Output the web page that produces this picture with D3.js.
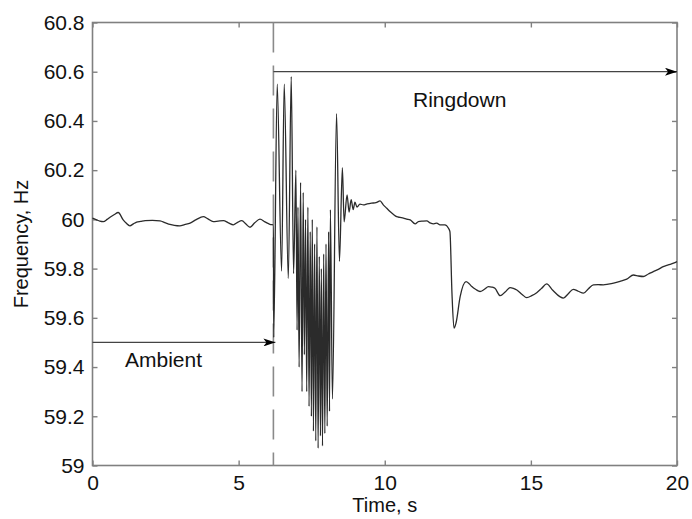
<!DOCTYPE html>
<html><head><meta charset="utf-8">
<script src="https://cdn.jsdelivr.net/npm/d3@7"></script>
<style>body{margin:0;background:#fff}svg{display:block}text{font-family:"Liberation Sans",Arial,sans-serif}</style>
</head><body>
<svg id="c" width="692" height="519"></svg>
<script>
const timeS = [0,0.14,0.25,0.37,0.50,0.60,0.75,0.88,1.05,1.15,1.28,1.40,1.51,1.65,1.80,2.05,2.31,2.50,2.65,2.80,2.99,3.15,3.34,3.55,3.79,3.95,4.13,4.30,4.48,4.65,4.82,4.95,5.11,5.25,5.39,5.55,5.73,5.90,6.07,6.19,
  6.20,6.32,6.47,6.56,6.70,6.80,6.88,6.96,7.00,7.03,7.07,7.12,7.17,7.21,7.25,7.29,7.33,7.37,7.41,7.45,7.49,7.52,7.56,7.60,7.64,7.68,7.72,7.76,7.80,7.83,7.87,7.91,7.95,7.99,8.03,8.08,8.11,8.14,8.21,8.35,8.45,8.55,8.61,8.71,8.78,8.85,8.92,8.98,9.05,
  9.15,9.27,9.40,9.55,9.70,9.84,9.95,10.07,10.18,10.30,10.41,10.52,10.64,10.75,10.87,11.04,11.15,11.30,11.44,11.55,11.68,11.78,11.89,12.06,12.18,12.23,12.30,12.37,12.44,12.58,12.78,12.88,12.98,13.12,13.26,13.40,13.55,13.66,13.77,13.95,14.12,14.29,14.40,14.52,14.70,14.86,15.03,15.20,15.37,15.54,15.75,15.99,16.11,16.28,16.45,16.62,16.80,16.97,17.14,17.30,17.48,17.65,17.83,18.05,18.28,18.51,18.68,18.85,19.02,19.19,19.36,19.53,19.70,19.88,20.0];
const freqHz = [60.005,59.998,59.993,59.991,60.000,60.009,60.020,60.028,59.998,59.985,59.974,59.982,59.989,59.992,59.995,59.996,59.994,59.986,59.980,59.976,59.974,59.979,59.985,59.999,60.011,60.002,59.991,59.993,59.995,59.986,59.978,59.987,59.995,59.981,59.968,59.986,60.001,59.990,59.980,59.978,
  59.52,60.55,59.79,60.55,59.76,60.58,59.78,60.20,59.55,60.05,59.40,60.15,59.30,60.11,59.45,60.00,59.30,60.05,59.24,59.95,59.20,60.00,59.14,59.90,59.10,59.97,59.07,59.85,59.12,59.80,59.08,59.86,59.13,59.90,59.16,59.95,59.22,60.04,59.27,60.43,59.83,60.21,59.99,60.10,60.03,60.08,60.04,60.07,60.05,
  60.062,60.059,60.063,60.066,60.068,60.075,60.059,60.045,60.032,60.020,60.011,60.008,60.005,60.001,59.998,59.982,59.991,59.993,59.994,59.986,59.982,59.985,59.978,59.978,59.964,59.95,59.70,59.558,59.58,59.686,59.747,59.740,59.727,59.715,59.707,59.715,59.727,59.725,59.720,59.690,59.705,59.723,59.720,59.713,59.695,59.682,59.690,59.702,59.720,59.738,59.712,59.686,59.680,59.698,59.716,59.708,59.700,59.718,59.734,59.735,59.734,59.737,59.741,59.748,59.757,59.774,59.770,59.768,59.778,59.788,59.797,59.808,59.815,59.822,59.828];
const xTicks = [0,5,10,15,20];
const yTicks = [59,59.2,59.4,59.6,59.8,60,60.2,60.4,60.6,60.8];
const eventT = 6.19;
const ambientF = 59.5, ringdownF = 60.6;

const svg = d3.select("#c");
const L=92.5, R=677, T=22.5, B=465.5;
const x = d3.scaleLinear().domain([0,20]).range([L,R]);
const y = d3.scaleLinear().domain([59,60.8]).range([B,T]);
const axisCol = "#808080";
const fmtY = d => (Math.abs(d-60)<1e-9||Math.abs(d-59)<1e-9) ? d3.format("d")(d) : d3.format(".1f")(d);

svg.append("rect").attr("x",L).attr("y",T).attr("width",R-L).attr("height",B-T)
  .attr("fill","none").attr("stroke",axisCol).attr("stroke-width",1.6);

const gx = svg.append("g").attr("transform",`translate(0,${B})`)
  .call(d3.axisBottom(x).tickValues(xTicks).tickSize(-5).tickPadding(10).tickFormat(d3.format("d")));
const gxt = svg.append("g").attr("transform",`translate(0,${T})`)
  .call(d3.axisTop(x).tickValues(xTicks).tickSize(-5).tickFormat(""));
const gy = svg.append("g").attr("transform",`translate(${L},0)`)
  .call(d3.axisLeft(y).tickValues(yTicks).tickSize(-5).tickPadding(8).tickFormat(fmtY));
const gyr = svg.append("g").attr("transform",`translate(${R},0)`)
  .call(d3.axisRight(y).tickValues(yTicks).tickSize(-5).tickFormat(""));
[gx,gxt,gy,gyr].forEach(g=>{
  g.select(".domain").remove();
  g.selectAll(".tick line").attr("stroke",axisCol).attr("stroke-width",1.4);
  g.selectAll("text").attr("fill","#111").style("font-size","21px");
});

svg.append("line").attr("x1",x(eventT)).attr("x2",x(eventT)).attr("y1",T).attr("y2",B)
  .attr("stroke","#8a8a8a").attr("stroke-width",1.6).attr("stroke-dasharray","30,13");

svg.append("path").datum(d3.zip(timeS,freqHz))
  .attr("d",d3.line().curve(d3.curveMonotoneX).x(d=>x(d[0])).y(d=>y(d[1])))
  .attr("fill","none").attr("stroke","#2b2b2b").attr("stroke-width",1.3).attr("stroke-linejoin","round");

const defs = svg.append("defs");
defs.append("marker").attr("id","ah").attr("viewBox","0 0 12 8").attr("refX",12).attr("refY",4)
  .attr("markerWidth",12).attr("markerHeight",8).attr("markerUnits","userSpaceOnUse").attr("orient","auto")
  .append("path").attr("d","M0,0 L12,4 L0,8 L3,4 Z").attr("fill","#000");
svg.append("line").attr("x1",x(0)).attr("x2",x(eventT)+2).attr("y1",y(ambientF)).attr("y2",y(ambientF))
  .attr("stroke","#444").attr("stroke-width",1.3).attr("marker-end","url(#ah)");
svg.append("line").attr("x1",x(eventT)).attr("x2",x(20)).attr("y1",y(ringdownF)).attr("y2",y(ringdownF))
  .attr("stroke","#444").attr("stroke-width",1.3).attr("marker-end","url(#ah)");

svg.append("text").attr("x",125).attr("y",367).style("font-size","21px").attr("fill","#111").text("Ambient");
svg.append("text").attr("x",413).attr("y",107).style("font-size","21px").attr("fill","#111").text("Ringdown");

svg.append("text").attr("x",(L+R)/2).attr("y",512).attr("text-anchor","middle").style("font-size","20px").attr("fill","#111").text("Time, s");
svg.append("text").attr("transform",`translate(28,${(T+B)/2}) rotate(-90)`).attr("text-anchor","middle").style("font-size","20px").attr("fill","#111").text("Frequency, Hz");
</script>
</body></html>
